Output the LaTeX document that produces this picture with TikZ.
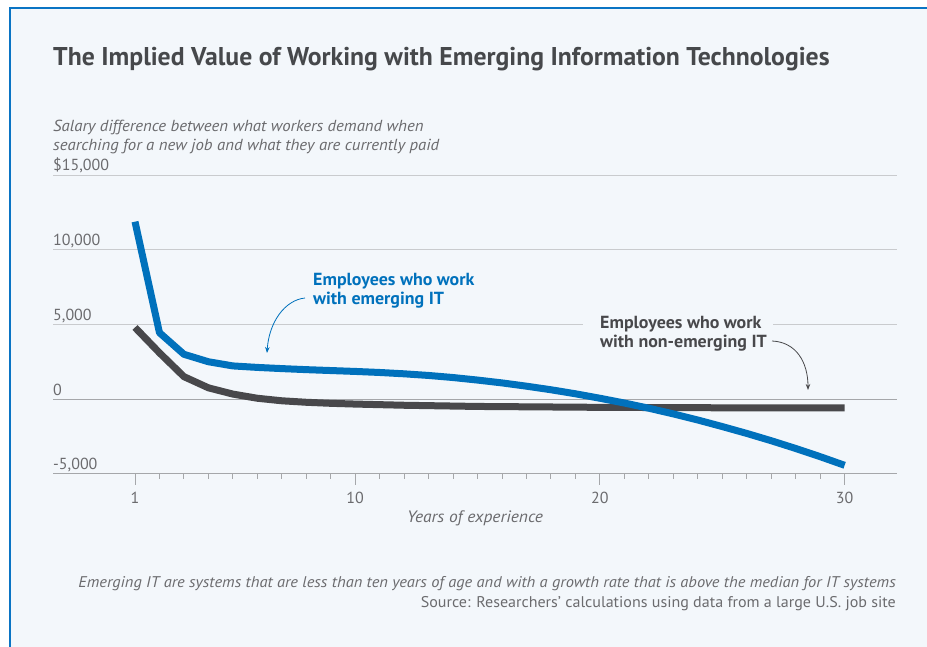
\documentclass[tikz,border=0pt]{standalone}
\usepackage{fontspec}
\setmainfont{PT Sans}
\usetikzlibrary{arrows.meta}
\definecolor{bg}{HTML}{F3F7FB}
\definecolor{framec}{HTML}{0A74C4}
\definecolor{eblue}{HTML}{0071BC}
\definecolor{dgray}{HTML}{48484B}
\definecolor{ttl}{HTML}{46484B}
\definecolor{txt}{HTML}{6B6B6E}
\definecolor{gridc}{HTML}{C9CBCE}
\definecolor{axisc}{HTML}{A5A7AA}
\begin{document}
\begin{tikzpicture}[x=1pt,y=-1pt,
  lbl/.style={anchor=base west, inner sep=0, text=txt, font=\fontsize{16}{19}\selectfont},
  tlbl/.style={anchor=base, inner sep=0, text=txt, font=\fontsize{16}{19}\selectfont},
  ytl/.style={anchor=base west, inner sep=0, text=txt, font=\itshape\fontsize{16}{19}\selectfont},
  gridl/.style={gridc, line width=1pt},
  axisl/.style={axisc, line width=1pt},
  series/.style={line width=7pt, line join=round},
  note/.style={anchor=base west, inner sep=0, font=\bfseries\fontsize{17.5}{20}\selectfont},
  pointer/.style={line width=0.8pt, -{Stealth[length=6pt,width=4.5pt]}}
]
\useasboundingbox (0,0) rectangle (927,647);
\fill[white] (0,0) rectangle (927,647);
\fill[bg] (10,8) rectangle (927,647);
\draw[framec, line width=2.2pt] (10,647) -- (10,8) -- (927,8);

\node[anchor=base west, inner sep=0, text=ttl, font=\bfseries\fontsize{25.7}{30}\selectfont] (title) at (53,66) {The Implied Value of Working with Emerging Information Technologies};

\node[ytl] (yt1) at (53,132) {\scalebox{1.048}[1]{Salary difference between what workers demand when}};
\node[ytl] (yt2) at (53,151) {\scalebox{1.048}[1]{searching for a new job and what they are currently paid}};

% grid
\draw[gridl] (53,175.5) -- (897,175.5);
\draw[gridl] (53,250) -- (897,250);
\draw[gridl] (53,324.5) -- (583,324.5);
\draw[gridl] (773,324.5) -- (897,324.5);
\draw[axisl] (53,399) -- (897,399);
\draw[axisl] (53,473.5) -- (897,473.5);

\node[lbl] (l15) at (53,171) {\$15,000};
\node[lbl] (l10) at (53,246) {10,000};
\node[lbl] (l5) at (53,320) {5,000};
\node[lbl] (l0) at (53,395) {0};
\node[lbl] (lm5) at (53,469) {-5,000};

% ticks
\foreach \t in {2,...,9,11,12,...,19,21,22,...,29}
  \draw[axisl] ({110.53+24.47*\t},473.5) -- ++(0,5);
\foreach \t in {1,10,20,30}
  \draw[axisl] ({110.53+24.47*\t},473.5) -- ++(0,11);
\node[tlbl] (x1) at (135,503) {1};
\node[tlbl] (x10) at (355.2,503) {10};
\node[tlbl] (x20) at (599.9,503) {20};
\node[tlbl] (x30) at (844.6,503) {30};
\node[tlbl, font=\itshape\fontsize{16.5}{19}\selectfont] (xt) at (475,522) {\scalebox{1.06}[1]{Years of experience}};

% series
\begin{scope}[shift={(110.53pt,-399pt)}, x=24.47pt, y=14.9pt]
\draw[series, dgray] plot coordinates {(1,4.8) (2,3.1) (3,1.5) (4,0.75) (5,0.33) (6,0.05) (7,-0.12) (8,-0.22) (9,-0.29) (10,-0.34) (12,-0.42) (15,-0.5) (20,-0.56) (25,-0.59) (30,-0.6)};
\draw[series, eblue] plot coordinates {(1,11.9) (2,4.45) (3,3.0) (4,2.5) (5,2.22) (6,2.12) (7,2.04) (8,1.97) (9,1.91) (10,1.85) (11,1.78) (12,1.69) (13,1.58) (14,1.44) (15,1.27) (16,1.08) (17,0.86) (18,0.62) (19,0.35) (20,0.05) (21,-0.27) (22,-0.62) (23,-1.0) (24,-1.41) (25,-1.85) (26,-2.31) (27,-2.8) (28,-3.32) (29,-3.87) (30,-4.45)};
\end{scope}

% annotations
\node[note, text=eblue] (eb1) at (313,286) {\scalebox{1.025}[1]{Employees who work}};
\node[note, text=eblue] (eb2) at (313,305) {\scalebox{1.025}[1]{with emerging IT}};
\coordinate (ebs) at (305,298);
\coordinate (ebe) at (267,353);
\draw[pointer, eblue] (ebs) .. controls (285,300) and (269,322) .. (ebe);

\node[note, text=dgray] (ng1) at (600,328) {\scalebox{1.025}[1]{Employees who work}};
\node[note, text=dgray] (ng2) at (600,347) {\scalebox{1.025}[1]{with non-emerging IT}};
\coordinate (ngs) at (772,341);
\coordinate (nge) at (808,390);
\draw[pointer, dgray] (ngs) .. controls (796,342) and (808,362) .. (nge);

% footnote
\node[anchor=base east, inner sep=0, text=txt, font=\itshape\fontsize{15.5}{18}\selectfont] (fn1) at (896,587) {\scalebox{1.06}[1]{Emerging IT are systems that are less than ten years of age and with a growth rate that is above the median for IT systems}};
\node[anchor=base east, inner sep=0, text=txt, font=\fontsize{15.5}{18}\selectfont] (fn2) at (896,607) {\scalebox{1.035}[1]{Source: Researchers’ calculations using data from a large U.S. job site}};
\end{tikzpicture}
\end{document}
